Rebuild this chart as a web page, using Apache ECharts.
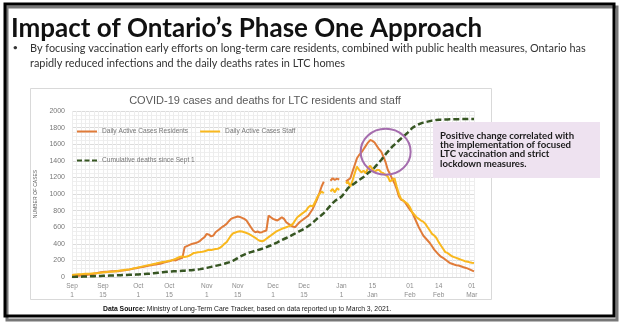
<!DOCTYPE html>
<html>
<head>
<meta charset="utf-8">
<script src="https://cdn.jsdelivr.net/npm/echarts@6/dist/echarts.min.js"></script>
<style>
  html, body { margin: 0; padding: 0; background: #ffffff; }
  #chart { width: 624px; height: 334px; }
</style>
</head>
<body>
<div id="chart"></div>
<script>
// Daily series, one value per day starting Sept 1, 2020 (null = no report that day)
const startYear = 2020, startMonth = 8, startDay = 1;

const tickDays = [0, 14, 30, 44, 61, 75, 91, 105, 122, 136, 153, 166, 181];
const tickLabels = ['Sep\n1', 'Sep\n15', 'Oct\n1', 'Oct\n15', 'Nov\n1', 'Nov\n15', 'Dec\n1', 'Dec\n15',
                    'Jan\n1', '15\nJan', '01\nFeb', '14\nFeb', '01\nMar'];

const yTicks = [0, 200, 400, 600, 800, 1000, 1200, 1400, 1600, 1800, 2000];

const residents = [
  12, 14, 15, 16, 18, 20, 22, 26, 30, 34,
  40, 46, 52, 58, 60, 62, 64, 66, 68, 70,
  72, 70, 74, 78, 82, 86, 90, 96, 102, 106,
  112, 116, 120, 126, 132, 138, 142, 146, 150, 156,
  160, 168, 176, 182, 190, 198, 204, 200, 212, 222,
  230, 360, 372, 384, 396, 404, 410, 420, 436, 460,
  480, 520, 510, 490, 500, 540, 560, 580, 604, 620,
  640, 672, 700, 712, 720, 728, 724, 712, 700, 680,
  640, 600, 560, 540, 548, 536, 540, 552, 560, 740,
  720, 700, 690, 680, 700, 720, 700, 660, 640, 620,
  608, 600, 630, 660, 680, 700, 720, 740, 780, 820,
  880, 940, 1010, 1090, 1150, null, null, 1160, 1190, 1170,
  1185, 1175, null, null, 1150, 1170, 1190, 1270, 1350, 1430,
  1470, 1500, 1540, 1580, 1620, 1650, 1640, 1620, 1580, 1540,
  1510, 1450, 1380, 1290, 1240, 1180, 1130, 1060, 970, 930,
  920, 890, 850, 810, 780, 720, 660, 600, 550, 500,
  470, 440, 410, 370, 330, 300, 270, 245, 230, 210,
  190, 170, 160, 150, 142, 138, 130, 120, 112, 104,
  92, 80, 68
];

const staff = [
  25, 28, 30, 32, 34, 36, 38, 40, 40, 42,
  44, 46, 48, 52, 55, 58, 60, 62, 64, 66,
  70, 74, 78, 82, 86, 88, 92, 98, 104, 110,
  116, 122, 128, 134, 140, 146, 150, 156, 162, 170,
  176, 180, 184, 190, 196, 200, 210, 220, 232, 244,
  248, 240, 246, 256, 270, 288, 292, 298, 300, 304,
  310, 320, 328, 324, 332, 336, 340, 352, 372, 400,
  420, 460, 500, 528, 536, 546, 552, 548, 540, 530,
  520, 504, 488, 472, 452, 436, 430, 440, 460, 480,
  500, 520, 540, 556, 568, 580, 590, 600, 610, 620,
  640, 680, 720, 740, 760, 780, 800, 840, 860, 850,
  900, 960, 1000, 1028, 1010, null, null, 1030, 1060, 1020,
  1070, 1050, null, null, 1130, 1150, 1090, 1160, 1250, 1330,
  1290, 1260, 1280, 1250, 1310, 1340, 1300, 1260, 1290, 1290,
  1260, 1250, 1230, 1210, 1150, 1170, 1190, 1090, 1000, 940,
  920, 900, 880, 840, 780, 750, 720, 700, 680, 667,
  640, 600, 560, 520, 500, 470, 420, 380, 340, 300,
  290, 270, 250, 240, 230, 220, 210, 200, 190, 185,
  178, 172, 168
];

const deaths = [
  0, 1, 2, 3, 4, 5, 6, 7, 8, 9,
  10, 11, 12, 13, 14, 15, 16, 17, 18, 19,
  20, 21, 22, 23, 24, 25, 26, 27, 28, 29,
  30, 32, 34, 36, 38, 40, 42, 45, 48, 51,
  54, 57, 60, 62, 64, 66, 68, 70, 71, 72,
  74, 76, 78, 80, 82, 85, 88, 91, 95, 100,
  105, 110, 116, 122, 128, 134, 140, 146, 152, 160,
  168, 176, 186, 198, 212, 228, 244, 258, 270, 282,
  292, 300, 308, 316, 324, 332, 340, 350, 360, 370,
  380, 392, 405, 418, 432, 446, 458, 470, 482, 496,
  510, 524, 538, 552, 566, 580, 596, 614, 634, 656,
  680, 704, 726, 747, 770, 800, 830, 860, 890, 915,
  935, 950, 968, 1000, 1036, 1072, 1092, 1110, 1130, 1150,
  1169, 1186, 1205, 1228, 1252, 1272, 1289, 1320, 1350, 1380,
  1410, 1445, 1480, 1510, 1540, 1570, 1595, 1620, 1645, 1668,
  1690, 1716, 1740, 1765, 1795, 1812, 1826, 1840, 1850, 1860,
  1866, 1872, 1878, 1884, 1888, 1892, 1894, 1896, 1897, 1898,
  1899, 1900, 1900, 1901, 1902, 1902, 1903, 1903, 1904, 1904,
  1905, 1905, 1905
];

const seriesNames = ['Daily Active Cases Residents', 'Daily Active Cases Staff', 'Cumulative deaths since Sept 1'];
const seriesColors = ['#E07B39', '#F9B81E', '#375623'];

// Highlighted period (day index, value) for the callout ring
const ringCenter = [142, 1510];

function pad(n) { return n < 10 ? '0' + n : '' + n; }
const categories = residents.map((_, i) => {
  const d = new Date(startYear, startMonth, startDay + i);
  return d.getFullYear() + '-' + pad(d.getMonth() + 1) + '-' + pad(d.getDate());
});

const chart = echarts.init(document.getElementById('chart'), null, { renderer: 'canvas' });

const textFont = 'Lato';
const chartFont = 'Liberation Sans';

const solidIcon = 'rect';
const dashedIcon = 'path://M0,0h5v2h-5z M7.5,0h5v2h-5z M15,0h5v2h-5z';

const option = {
  animation: false,
  backgroundColor: '#ffffff',
  title: [
    {
      text: 'Impact of Ontario\u2019s Phase One Approach',
      left: 11, top: 16, padding: 0,
      textStyle: { fontFamily: textFont, fontWeight: 'bold', fontSize: 26, color: '#111111' }
    },
    {
      text: '\u2022',
      left: 13, top: 43, padding: 0,
      textStyle: { fontFamily: textFont, fontSize: 8, color: '#333333' }
    },
    {
      text: 'By focusing vaccination early efforts on long-term care residents, combined with public health measures, Ontario has\nrapidly reduced infections and the daily deaths rates in LTC homes',
      left: 30, top: 40.5, padding: 0,
      textStyle: { fontFamily: textFont, fontSize: 10.9, lineHeight: 15.5, color: '#333333', fontWeight: 'normal' }
    },
    {
      text: 'COVID-19 cases and deaths for LTC residents and staff',
      left: 265, top: 95.5, textAlign: 'center', padding: 0,
      textStyle: { fontFamily: chartFont, fontSize: 11, color: '#595959', fontWeight: 'normal' }
    },
    {
      text: '{b|Data Source:} Ministry of Long-Term Care Tracker, based on data reported up to March 3, 2021.',
      left: 103, top: 306, padding: 0,
      textStyle: {
        fontFamily: chartFont, fontSize: 6.8, color: '#222222', fontWeight: 'normal',
        rich: { b: { fontFamily: chartFont, fontSize: 6.8, fontWeight: 'bold', color: '#111111' } }
      }
    }
  ],
  legend: [
    {
      data: [
        { name: seriesNames[0], icon: solidIcon },
        { name: seriesNames[1], icon: solidIcon }
      ],
      left: 77, top: 128, padding: 0,
      itemWidth: 20, itemHeight: 2, itemGap: 12,
      textStyle: { fontFamily: chartFont, fontSize: 6.6, color: '#777777' },
      selectedMode: false
    },
    {
      data: [{ name: seriesNames[2], icon: dashedIcon }],
      left: 77, top: 157, padding: 0,
      itemWidth: 20, itemHeight: 2.5,
      textStyle: { fontFamily: chartFont, fontSize: 6.6, color: '#777777' },
      selectedMode: false
    }
  ],
  grid: { left: 72, right: 150, top: 111, bottom: 57, containLabel: false },
  xAxis: {
    type: 'category',
    data: categories,
    boundaryGap: false,
    axisLine: { show: true, lineStyle: { color: '#D9D9D9' } },
    axisTick: { show: false },
    axisLabel: {
      interval: (idx) => tickDays.indexOf(idx) >= 0,
      formatter: (val, idx) => tickLabels[tickDays.indexOf(idx)],
      fontFamily: chartFont, fontSize: 6.5, color: '#8C8C8C', lineHeight: 9, margin: 5
    },
    splitLine: { show: true, interval: (idx) => idx % 2 === 0, lineStyle: { color: '#EDEDED', width: 1 } }
  },
  yAxis: {
    type: 'value',
    min: yTicks[0], max: yTicks[yTicks.length - 1], interval: yTicks[1] - yTicks[0],
    name: 'NUMBER OF CASES',
    nameLocation: 'middle', nameGap: 16, nameRotate: 90,
    nameTextStyle: { fontFamily: chartFont, fontSize: 5, color: '#555555' },
    axisLine: { show: false },
    axisTick: { show: false },
    axisLabel: {
      formatter: (v) => String(v),
      fontFamily: chartFont, fontSize: 7, color: '#777777', margin: 7
    },
    splitLine: { show: true, lineStyle: { color: '#DCDCDC', width: 1 } },
    minorTick: { show: false, splitNumber: 4 },
    minorSplitLine: { show: true, lineStyle: { color: '#EFEFEF', width: 1 } }
  },
  series: [
    {
      name: seriesNames[0], type: 'line', data: residents, symbol: 'none', connectNulls: false,
      color: seriesColors[0], lineStyle: { color: seriesColors[0], width: 2 }, z: 3
    },
    {
      name: seriesNames[1], type: 'line', data: staff, symbol: 'none', connectNulls: false,
      color: seriesColors[1], lineStyle: { color: seriesColors[1], width: 2 }, z: 4
    },
    {
      name: seriesNames[2], type: 'line', data: deaths, symbol: 'none',
      color: seriesColors[2], lineStyle: { color: seriesColors[2], width: 2.5, type: [6, 3] }, z: 5
    }
  ]
};

chart.setOption(option);

// Slide decorations: outer frame, chart panel, callout box and highlight ring
const ringPx = chart.convertToPixel({ gridIndex: 0 }, ringCenter);

chart.setOption({
  graphic: [
    {
      id: 'frameShadow', type: 'rect', silent: true, z: 0,
      shape: { x: 7, y: 7, width: 610, height: 313 },
      style: { fill: 'none', stroke: '#777777', lineWidth: 3 }
    },
    {
      id: 'frame', type: 'rect', silent: true, z: 1,
      shape: { x: 5, y: 4, width: 609, height: 312 },
      style: { fill: 'none', stroke: '#000000', lineWidth: 3 }
    },
    {
      id: 'panel', type: 'rect', silent: true, z: -1,
      shape: { x: 30.5, y: 88.5, width: 461, height: 211 },
      style: { fill: 'none', stroke: '#D9D9D9', lineWidth: 1 }
    },
    {
      id: 'callout', type: 'group', z: 20, left: 433, top: 122,
      children: [
        {
          type: 'rect', silent: true,
          shape: { x: 0, y: 0, width: 167, height: 56 },
          style: { fill: '#EEE2F0' }
        },
        {
          type: 'text', silent: true, x: 7, y: 9,
          style: {
            text: 'Positive change correlated with\nthe implementation of focused\nLTC vaccination and strict\nlockdown measures.',
            fontFamily: textFont, fontWeight: 'bold', fontSize: 9.6, lineHeight: 9.3, fill: '#1A1A1A'
          }
        }
      ]
    },
    {
      id: 'ring', type: 'ellipse', silent: true, z: 30,
      shape: { cx: ringPx[0], cy: ringPx[1], rx: 25, ry: 23 },
      style: { fill: 'none', stroke: '#A56DAE', lineWidth: 2 }
    }
  ]
});
</script>
</body>
</html>
